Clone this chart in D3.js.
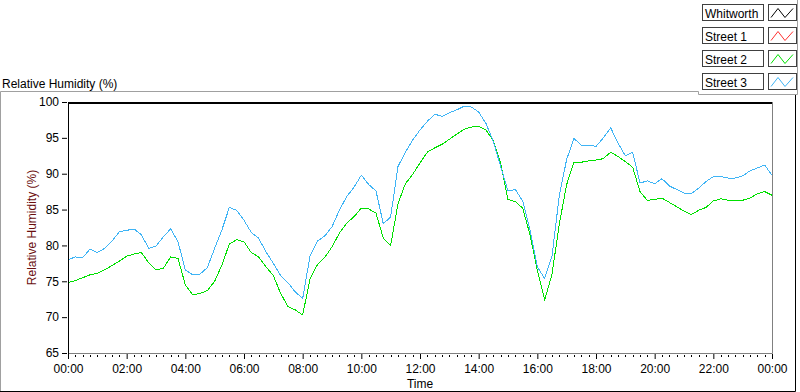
<!DOCTYPE html>
<html>
<head>
<meta charset="utf-8">
<script src="https://cdn.jsdelivr.net/npm/d3@7"></script>
<style>
  body { margin: 0; background: #fff; }
  svg { display: block; font-family: "Liberation Sans", Arial, sans-serif; }
</style>
</head>
<body>
<div id="chart"></div>
<script>
// series names shown in the legend, with their plot colours
const seriesNames = ["Whitworth", "Street 1", "Street 2", "Street 3"];
const seriesColors = ["#000000", "#ff3030", "#00e000", "#3fb4f5"];

// readings every 15 minutes, 00:00 -> 24:00 (hours)
const sampleHours = d3.range(0, 24.001, 0.25);

const street2 = [
  74.8, 75.1, 75.5, 75.9, 76.1, 76.6, 77.2, 77.8, 78.5, 78.8, 79.0, 77.6,
  76.6, 76.8, 78.4, 78.2, 74.5, 73.1, 73.3, 73.7, 75.0, 77.3, 80.2, 80.8,
  80.5, 79.0, 78.4, 77.0, 75.8, 73.3, 71.5, 71.0, 70.3, 75.3, 77.3, 78.3,
  79.8, 81.7, 83.1, 84.0, 85.2, 85.1, 84.5, 81.0, 80.0, 85.8, 88.6, 89.9,
  91.5, 93.0, 93.6, 94.1, 94.8, 95.5, 96.2, 96.5, 96.6, 96.1, 94.6, 91.5,
  86.4, 86.1, 85.2, 81.5, 76.5, 72.4, 76.0, 83.0, 88.5, 91.6, 91.6, 91.8,
  91.9, 92.1, 93.0, 92.4, 91.7, 90.9, 87.5, 86.3, 86.4, 86.6, 86.0, 85.4,
  84.8, 84.3, 84.9, 85.3, 86.2, 86.5, 86.3, 86.2, 86.3, 86.6, 87.2, 87.5,
  87.0
];

const street3 = [
  78.0, 78.4, 78.3, 79.5, 79.0, 79.6, 80.6, 81.9, 82.1, 82.3, 81.5, 79.6,
  79.9, 81.2, 82.3, 80.5, 76.6, 75.9, 76.0, 76.9, 79.6, 82.2, 85.3, 84.9,
  83.5, 81.8, 81.0, 79.1, 77.5, 75.8, 74.8, 73.5, 72.6, 78.5, 80.6, 81.3,
  82.6, 84.9, 86.8, 88.1, 89.8, 88.5, 87.6, 83.0, 84.0, 91.0, 93.0, 94.7,
  96.1, 97.3, 98.3, 98.0, 98.5, 98.9, 99.4, 99.3, 98.6, 97.0, 94.5, 91.0,
  87.6, 87.8, 86.2, 82.2, 77.0, 75.4, 78.5, 87.0, 92.0, 94.9, 94.0, 94.0,
  93.8, 95.0, 96.4, 94.3, 92.5, 93.0, 88.7, 89.0, 88.6, 89.3, 88.3, 87.8,
  87.3, 87.2, 88.0, 88.9, 89.6, 89.6, 89.4, 89.4, 89.7, 90.4, 90.8, 91.2,
  89.8
];

const yTicks = [65, 70, 75, 80, 85, 90, 95, 100];
const xMajorHours = [0, 2, 4, 6, 8, 10, 12, 14, 16, 18, 20, 22, 24];
const xTickLabels = ["00:00", "02:00", "04:00", "06:00", "08:00", "10:00", "12:00",
                     "14:00", "16:00", "18:00", "20:00", "22:00", "00:00"];

const width = 800, height = 392;
const plot = { left: 68, right: 772, top: 102, bottom: 353 };

const x = d3.scaleLinear().domain([0, 24]).range([plot.left, plot.right]);
const y = d3.scaleLinear().domain([65, 100]).range([plot.bottom, plot.top]);

const svg = d3.select("#chart").append("svg")
    .attr("width", width)
    .attr("height", height);

// outer panel frame (sunken look)
svg.append("path")
    .attr("d", "M0.5,391 V91.5 H698.5 V94.5 H797.5 V0")
    .attr("fill", "none").attr("stroke", "#a0a0a0");
svg.append("path")
    .attr("d", "M0,391.5 H795.5 V95")
    .attr("fill", "none").attr("stroke", "#000");

// title
svg.append("text")
    .attr("x", 2).attr("y", 88)
    .attr("font-size", 12)
    .text("Relative Humidity (%)");

// legend
const legend = svg.append("g");
seriesNames.forEach((name, i) => {
  const top = 4.5 + i * 23;
  const g = legend.append("g").attr("transform", `translate(0,${top})`);
  g.append("rect").attr("x", 702.5).attr("y", 0).attr("width", 61).attr("height", 16)
      .attr("fill", "#fff").attr("stroke", "#404040");
  g.append("text").attr("x", 705).attr("y", 13).attr("font-size", 12).text(name);
  g.append("rect").attr("x", 768.5).attr("y", 0).attr("width", 28).attr("height", 16)
      .attr("fill", "#fff").attr("stroke", "#404040");
  g.append("path")
      .attr("d", "M771,13 L778,4 L785,13 L793,4")
      .attr("fill", "none").attr("stroke", seriesColors[i]).attr("stroke-width", 1);
});

// plot lines (aliased, like the original pixel traces)
const line = d3.line()
    .x((d, i) => x(sampleHours[i]))
    .y(d => y(d));

[[street2, seriesColors[2]], [street3, seriesColors[3]]].forEach(([vals, col]) => {
  svg.append("path")
      .datum(vals)
      .attr("fill", "none")
      .attr("stroke", col)
      .attr("stroke-width", 1)
      .attr("shape-rendering", "crispEdges")
      .attr("d", line);
});

// plot frame: right + bottom grey, left black, top black thick
svg.append("path")
    .attr("d", `M${plot.left},${plot.bottom + 0.5} H${plot.right + 0.5} V${plot.top}`)
    .attr("fill", "none").attr("stroke", "#808080");
svg.append("line")
    .attr("x1", plot.left + 0.5).attr("x2", plot.left + 0.5)
    .attr("y1", plot.top).attr("y2", plot.bottom + 1)
    .attr("stroke", "#000");
svg.append("line")
    .attr("x1", plot.left).attr("x2", plot.right)
    .attr("y1", plot.top + 1).attr("y2", plot.top + 1)
    .attr("stroke", "#000").attr("stroke-width", 2);

// y axis
const yAxis = svg.append("g")
    .attr("transform", `translate(${plot.left - 1},0)`)
    .call(d3.axisLeft(y).tickValues(yTicks).tickSize(5).tickPadding(3));
yAxis.select(".domain").remove();
yAxis.selectAll("text").attr("font-size", 12).attr("font-family", "Liberation Sans, Arial, sans-serif").attr("fill", "#000");
yAxis.selectAll("line").attr("stroke", "#000");

// x axis: major ticks every 2 h, minor every 15 min
const minorHours = d3.range(0, 24.001, 0.25).filter(h => h % 2 !== 0);
svg.append("g").selectAll("line")
    .data(minorHours)
    .join("line")
    .attr("x1", d => Math.round(x(d)) + 0.5).attr("x2", d => Math.round(x(d)) + 0.5)
    .attr("y1", plot.bottom + 2).attr("y2", plot.bottom + 4)
    .attr("stroke", "#000");

const xAxis = svg.append("g")
    .attr("transform", `translate(0,${plot.bottom + 1})`)
    .call(d3.axisBottom(x).tickValues(xMajorHours).tickSize(5).tickPadding(5)
      .tickFormat((d, i) => xTickLabels[i]));
xAxis.select(".domain").remove();
xAxis.selectAll("text").attr("font-size", 12).attr("font-family", "Liberation Sans, Arial, sans-serif").attr("fill", "#000");
xAxis.selectAll("line").attr("stroke", "#000");

// axis titles
svg.append("text")
    .attr("x", (plot.left + plot.right) / 2).attr("y", 388)
    .attr("text-anchor", "middle").attr("font-size", 12)
    .text("Time");
svg.append("text")
    .attr("transform", `translate(36,${(plot.top + plot.bottom) / 2}) rotate(-90)`)
    .attr("text-anchor", "middle").attr("font-size", 12)
    .attr("fill", "#6b0f0f")
    .text("Relative Humidity (%)");
</script>
</body>
</html>
